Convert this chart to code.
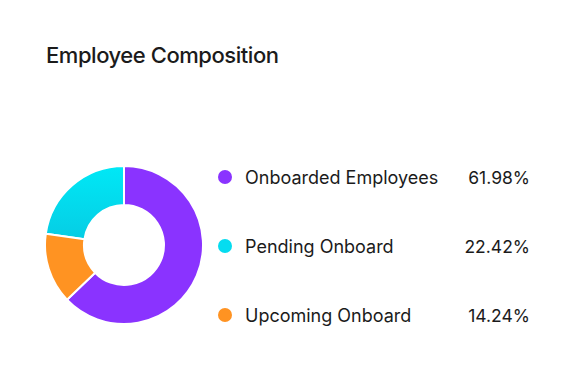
<!DOCTYPE html>
<html>
<head>
<meta charset="utf-8">
<script src="https://cdn.jsdelivr.net/npm/d3@7"></script>
<style>
	body { margin: 0; background: #fff; }
	svg { display: block; font-family: Inter, 'Noto Sans', sans-serif; }
</style>
</head>
<body>
<div id="chart"></div>
<script>
var categories = ['Onboarded Employees', 'Pending Onboard', 'Upcoming Onboard'];
var values = [61.98, 22.42, 14.24];
var colors = ['#8a33ff', '#05dcf0', '#ff9322'];
// clockwise order of the slices in the donut
var sliceOrder = [0, 2, 1];

var width = 576;
var height = 372;

var svg = d3
	.select('#chart')
	.append('svg')
	.attr('width', width)
	.attr('height', height);

// title
svg
	.append('text')
	.attr('x', 46)
	.attr('y', 63)
	.attr('fill', '#1b1b1b')
	.attr('font-size', 22)
	.attr('font-weight', 500)
	.attr('letter-spacing', -0.45)
	.text('Employee Composition');

// cyan slice has a slight vertical gradient
var defs = svg.append('defs');
var grad = defs
	.append('linearGradient')
	.attr('id', 'cyanGrad')
	.attr('x1', 0).attr('y1', 0)
	.attr('x2', 0).attr('y2', 1);
grad.append('stop').attr('offset', '0%').attr('stop-color', '#00e8f6');
grad.append('stop').attr('offset', '100%').attr('stop-color', '#06cde4');

var pie = d3
	.pie()
	.sort(function(a, b){ return sliceOrder.indexOf(a) - sliceOrder.indexOf(b); })
	.value(function(i){ return values[i]; });

var arc = d3
	.arc()
	.innerRadius(40)
	.outerRadius(79);

var donut = svg
	.append('g')
	.attr('transform', 'translate(124,245)');

donut
	.selectAll('path')
	.data(pie(d3.range(values.length)))
	.enter()
	.append('path')
	.attr('d', arc)
	.attr('fill', function(d){ return d.data == 1 ? 'url(#cyanGrad)' : colors[d.data]; })
	.attr('stroke', '#fff')
	.attr('stroke-width', 2)
	.attr('stroke-linejoin', 'round');

// legend
var y = d3
	.scalePoint()
	.domain(categories)
	.range([177, 315]);

var legend = svg
	.selectAll('.legend')
	.data(categories)
	.enter()
	.append('g')
	.attr('class', 'legend')
	.attr('transform', function(d){ return 'translate(0,' + y(d) + ')'; });

legend
	.append('circle')
	.attr('cx', 225)
	.attr('cy', 0)
	.attr('r', 7)
	.attr('fill', function(d, i){ return colors[i]; });

legend
	.append('text')
	.attr('x', 245)
	.attr('y', 6.5)
	.attr('fill', '#1b1b1b')
	.attr('font-size', 18)
	.text(function(d){ return d; });

legend
	.append('text')
	.attr('x', 530)
	.attr('y', 6.5)
	.attr('text-anchor', 'end')
	.attr('fill', '#1b1b1b')
	.attr('font-size', 17.5)
	.text(function(d, i){ return values[i].toFixed(2) + '%'; });
</script>
</body>
</html>
